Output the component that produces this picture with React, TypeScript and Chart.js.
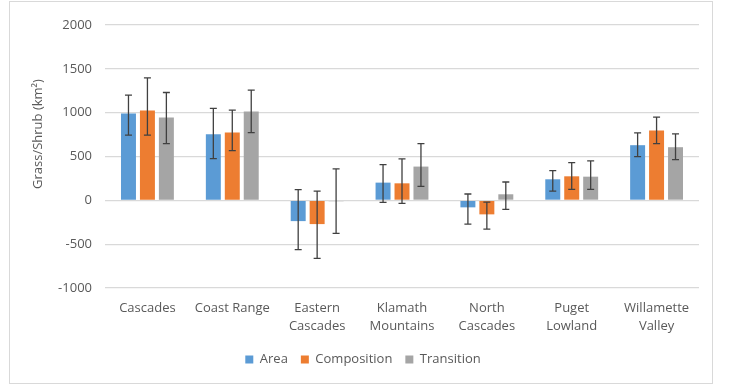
import React, { useEffect, useRef } from "react";
import { Chart, registerables } from "chart.js";

Chart.register(...registerables);

const categories: (string | string[])[] = [
  "Cascades",
  "Coast Range",
  ["Eastern", "Cascades"],
  ["Klamath", "Mountains"],
  ["North", "Cascades"],
  ["Puget", "Lowland"],
  ["Willamette", "Valley"],
];

const areaValues = [990, 755, -237, 202, -80, 240, 629];
const areaLow = [743, 476, -563, -23, -271, 106, 499];
const areaHigh = [1200, 1048, 122, 408, 72, 339, 769];

const compositionValues = [1025, 773, -271, 194, -160, 274, 796];
const compositionLow = [743, 568, -663, -34, -328, 126, 648];
const compositionHigh = [1398, 1028, 106, 472, -20, 431, 949];

const transitionValues = [945, 1013, -10, 385, 69, 270, 606];
const transitionLow = [648, 773, -377, 160, -103, 126, 465];
const transitionHigh = [1230, 1257, 358, 648, 209, 449, 758];

const yTicks = [-1000, -500, 0, 500, 1000, 1500, 2000];
const yTitle = "Grass/Shrub (km\u00B2)";

const FONT = "'Open Sans', sans-serif";
const TEXT = "#595959";

const errorBarPlugin = {
  id: "errorBars",
  afterDatasetsDraw(chart: any) {
    const ctx = chart.ctx;
    const y = chart.scales.y;
    ctx.save();
    ctx.strokeStyle = "#404040";
    ctx.lineWidth = 1.3;
    chart.data.datasets.forEach((ds: any, i: number) => {
      const meta = chart.getDatasetMeta(i);
      meta.data.forEach((bar: any, j: number) => {
        const x = bar.x;
        const lo = y.getPixelForValue(ds.errLow[j]);
        const hi = y.getPixelForValue(ds.errHigh[j]);
        ctx.beginPath();
        ctx.moveTo(x, lo);
        ctx.lineTo(x, hi);
        ctx.moveTo(x - 3.5, lo);
        ctx.lineTo(x + 3.5, lo);
        ctx.moveTo(x - 3.5, hi);
        ctx.lineTo(x + 3.5, hi);
        ctx.stroke();
      });
    });
    ctx.restore();
  },
};

const yTitlePlugin = {
  id: "yTitle",
  afterDraw(chart: any) {
    const ctx = chart.ctx;
    ctx.save();
    ctx.translate(38, 134);
    ctx.rotate(-Math.PI / 2);
    ctx.font = `13px ${FONT}`;
    ctx.fillStyle = TEXT;
    ctx.textAlign = "center";
    ctx.textBaseline = "middle";
    ctx.fillText(yTitle, 0, 0);
    ctx.restore();
  },
};

export default function App() {
  const ref = useRef<HTMLCanvasElement>(null);

  useEffect(() => {
    if (!ref.current) return;
    const mk = (label: string, data: number[], lo: number[], hi: number[], color: string) => ({
      label,
      data,
      errLow: lo,
      errHigh: hi,
      backgroundColor: color,
      borderWidth: 0,
      categoryPercentage: 0.67,
      barPercentage: 0.79,
    });
    const chart = new Chart(ref.current, {
      type: "bar",
      data: {
        labels: categories,
        datasets: [
          mk("Area", areaValues, areaLow, areaHigh, "#5B9BD5"),
          mk("Composition", compositionValues, compositionLow, compositionHigh, "#ED7D31"),
          mk("Transition", transitionValues, transitionLow, transitionHigh, "#A5A5A5"),
        ] as any,
      },
      options: {
        animation: false,
        responsive: false,
        maintainAspectRatio: false,
        layout: { padding: { left: 27, right: 37, top: 25, bottom: 15 } },
        plugins: {
          legend: {
            position: "bottom",
            labels: {
              boxWidth: 8,
              boxHeight: 8,
              color: TEXT,
              font: { family: FONT, size: 13 },
              padding: 13,
            },
          },
          tooltip: { enabled: false },
        },
        scales: {
          x: {
            afterFit: (s: any) => {
              s.height = 52;
            },
            grid: { display: false, drawTicks: false },
            border: { display: false },
            ticks: {
              color: TEXT,
              font: { family: FONT, size: 13, lineHeight: 1.4 },
              padding: 11,
              maxRotation: 0,
              autoSkip: false,
            },
          },
          y: {
            min: -1000,
            max: 2000,
            afterFit: (s: any) => {
              s.width = 78;
            },
            afterBuildTicks: (s: any) => {
              s.ticks = yTicks.map((v) => ({ value: v }));
            },
            grid: { color: "#D9D9D9", lineWidth: 1.3, drawTicks: false },
            border: { display: false },
            ticks: {
              color: TEXT,
              font: { family: FONT, size: 13 },
              padding: 13,
              callback: (v: any) => String(v),
            },
          },
        },
      } as any,
      plugins: [errorBarPlugin, yTitlePlugin],
    });
    return () => chart.destroy();
  }, []);

  return (
    <div style={{ position: "fixed", left: 0, top: 0, width: 736, height: 391, background: "#fff" }}>
      <div
        style={{
          position: "absolute",
          left: 9,
          top: 1,
          width: 702,
          height: 381,
          border: "1px solid #D9D9D9",
        }}
      />
      <canvas ref={ref} width={736} height={391} style={{ position: "absolute", left: 0, top: 0 }} />
    </div>
  );
}
